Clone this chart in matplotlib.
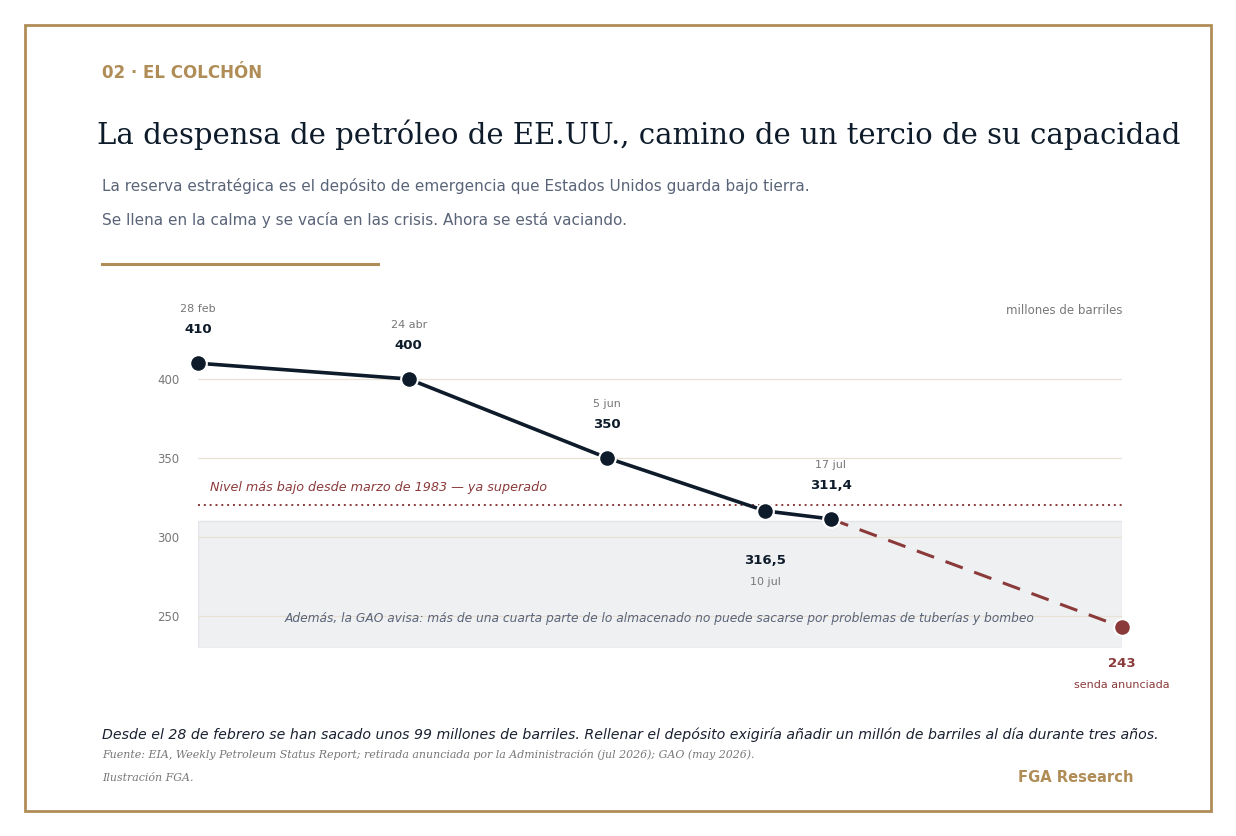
import matplotlib
matplotlib.use("Agg")
import matplotlib.pyplot as plt
from matplotlib.patches import Rectangle
from matplotlib.lines import Line2D

# ----------------------------
# data
# ----------------------------
dates = ["28 feb", "24 abr", "5 jun", "10 jul", "17 jul"]
x_pos = [0, 22.8, 44.3, 61.4, 68.5]          # time position along the axis (0-100)
stock = [410, 400, 350, 316.5, 311.4]         # millones de barriles
value_labels = ["410", "400", "350", "316,5", "311,4"]

proj_x = [68.5, 100]
proj_y = [311.4, 243]
proj_label = "243"

yticks = [250, 300, 350, 400]
low_1983 = 320
unusable_band = (230, 310)

NAVY = "#0d1b2a"
RED = "#8b3a3a"
GOLD = "#b08d57"
SLATE = "#5a6478"
GREY = "#777777"

fig = plt.figure(figsize=(12.36, 8.36), dpi=100)
W, H = 1236, 836


def fx(px):
    return px / W


def fy(py):
    return 1 - py / H


# frame
fig.patches.append(Rectangle((fx(25), fy(811)), fx(1186), 786 / H, transform=fig.transFigure,
                             fill=False, edgecolor=GOLD, linewidth=2))

# header
fig.text(fx(102), fy(73), "02 · EL COLCHÓN", color=GOLD, fontsize=12, fontweight="bold", va="center")
fig.text(fx(97), fy(135), "La despensa de petróleo de EE.UU., camino de un tercio de su capacidad",
         family="DejaVu Serif", fontsize=21, color=NAVY, va="center")
fig.text(fx(102), fy(186), "La reserva estratégica es el depósito de emergencia que Estados Unidos guarda bajo tierra.",
         fontsize=11, color=SLATE, va="center")
fig.text(fx(102), fy(220), "Se llena en la calma y se vacía en las crisis. Ahora se está vaciando.",
         fontsize=11, color=SLATE, va="center")
fig.lines.append(Line2D([fx(102), fx(378)], [fy(264), fy(264)], transform=fig.transFigure,
                        color=GOLD, linewidth=2.2))

# ----------------------------
# chart
# ----------------------------
ax = fig.add_axes([fx(198), fy(647.6), 924 / W, (647.6 - 307.9) / H])
ax.set_xlim(0, 100)
ax.set_ylim(230, 445)
for s in ax.spines.values():
    s.set_visible(False)
ax.set_xticks([])
ax.set_yticks(yticks)
ax.tick_params(axis="y", length=0, pad=13.5, labelsize=8.5, labelcolor=GREY)
for t in yticks:
    ax.axhline(t, color="#e8e2d4", linewidth=0.9, zorder=1)

ax.axhspan(*unusable_band, facecolor="#eff0f2", edgecolor="#e3e5e8", linewidth=1, zorder=0)
ax.axhline(low_1983, color=RED, linestyle=(0, (1, 2)), linewidth=1.4, zorder=2)
ax.text(1.3, low_1983 + 11.5, "Nivel más bajo desde marzo de 1983 — ya superado",
        color=RED, style="italic", fontsize=9.2, va="center")
ax.text(50, 248.7, "Además, la GAO avisa: más de una cuarta parte de lo almacenado no puede sacarse por problemas de tuberías y bombeo",
        color=SLATE, style="italic", fontsize=8.8, ha="center", va="center")

ax.plot(proj_x, proj_y, color=RED, linewidth=2.2, dashes=(6, 4), zorder=3)
ax.plot(x_pos, stock, color=NAVY, linewidth=2.6, zorder=4)
ax.plot(x_pos, stock, "o", color=NAVY, markersize=12, markeredgecolor="white",
        markeredgewidth=1.5, zorder=5, clip_on=False)
ax.plot(proj_x[-1], proj_y[-1], "o", color=RED, markersize=12, markeredgecolor="white",
        markeredgewidth=1.5, zorder=5, clip_on=False)

for i, (x, y) in enumerate(zip(x_pos, stock)):
    if dates[i] == "10 jul":
        v_off, d_off = -36, -51
    else:
        v_off, d_off = 24, 39
    ax.annotate(value_labels[i], (x, y), xytext=(0, v_off), textcoords="offset points",
                ha="center", va="center", fontsize=9.5, fontweight="bold", color=NAVY,
                annotation_clip=False)
    ax.annotate(dates[i], (x, y), xytext=(0, d_off), textcoords="offset points",
                ha="center", va="center", fontsize=8, color=GREY, annotation_clip=False)

ax.annotate(proj_label, (proj_x[-1], proj_y[-1]), xytext=(0, -26), textcoords="offset points",
            ha="center", va="center", fontsize=9.5, fontweight="bold", color=RED, annotation_clip=False)
ax.annotate("senda anunciada", (proj_x[-1], proj_y[-1]), xytext=(0, -42), textcoords="offset points",
            ha="center", va="center", fontsize=8, color=RED, annotation_clip=False)

fig.text(fx(1122), fy(310), "millones de barriles", ha="right", va="center", fontsize=8.5, color=GREY)

# footer
fig.text(fx(102), fy(735), "Desde el 28 de febrero se han sacado unos 99 millones de barriles. Rellenar el depósito exigiría añadir un millón de barriles al día durante tres años.",
         style="italic", fontsize=10.2, color="#1a2030", va="center")
fig.text(fx(102), fy(755), "Fuente: EIA, Weekly Petroleum Status Report; retirada anunciada por la Administración (jul 2026); GAO (may 2026).",
         family="DejaVu Serif", style="italic", fontsize=7.9, color=GREY, va="center")
fig.text(fx(102), fy(778), "Ilustración FGA.", family="DejaVu Serif", style="italic", fontsize=7.9,
         color=GREY, va="center")
fig.text(fx(1134), fy(777), "FGA Research", ha="right", va="center", fontsize=10.6, fontweight="bold", color=GOLD)

fig.savefig("out.png", dpi=100, facecolor="white")
